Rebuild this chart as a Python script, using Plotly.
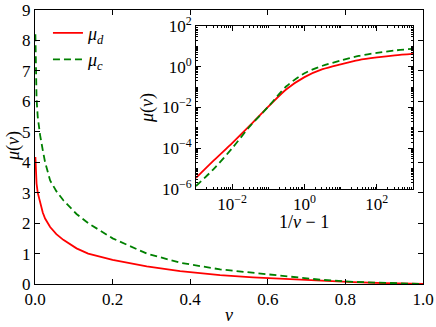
"""Chemical potential mu(nu): main panel plus log-log inset."""

import plotly.graph_objects as go

# ─── Main panel : mu vs nu ────────────────────────────────────────────────────
nu = [0.001, 0.002, 0.004, 0.007, 0.013, 0.02, 0.026, 0.039, 0.055, 0.073,
      0.107, 0.137, 0.2, 0.288, 0.374, 0.477, 0.562, 0.649, 0.735, 0.82,
      0.906, 0.96, 1.0]
mu_d = [4.17, 3.8, 3.3, 3.0, 2.7, 2.35, 2.15, 1.87, 1.64, 1.45,
        1.17, 1.0, 0.79, 0.58, 0.42, 0.29, 0.22, 0.16, 0.11, 0.06,
        0.025, 0.008, 0.0]
mu_c = [8.2, 7.2, 6.1, 5.5, 4.9, 4.4, 4.0, 3.4, 3.05, 2.75,
        2.3, 2.0, 1.5, 1.0, 0.7, 0.48, 0.36, 0.24, 0.14, 0.07,
        0.025, 0.008, 0.0]

# ─── Inset : mu vs 1/nu - 1 (log-log) ─────────────────────────────────────────
inv_nu_m1 = [1e-3, 3.16e-3, 1e-2, 3.16e-2, 1e-1, 3.16e-1, 1.0, 3.16, 10.0,
             31.6, 100.0, 316.0, 1000.0]
mu_d_inset = [3.5e-6, 2.6e-5, 1.8e-4, 1.35e-3, 1.1e-2, 7.9e-2, 0.31, 0.76,
              1.32, 2.14, 2.88, 3.63, 4.27]
mu_c_inset = [1.4e-6, 1.0e-5, 1.0e-4, 1.26e-3, 1.1e-2, 1.1e-1, 0.48, 1.12,
              2.0, 3.4, 4.8, 6.3, 7.6]

main_xticks = [0.0, 0.2, 0.4, 0.6, 0.8, 1.0]
main_yticks = list(range(10))
inset_xticks = [1e-2, 1.0, 1e2]
inset_xlabels = ["10<sup>−2</sup>", "10<sup>0</sup>", "10<sup>2</sup>"]
inset_yticks = [1e-6, 1e-4, 1e-2, 1.0, 1e2]
inset_ylabels = ["10<sup>−6</sup>", "10<sup>−4</sup>", "10<sup>−2</sup>",
                 "10<sup>0</sup>", "10<sup>2</sup>"]

_FONT = "Liberation Serif"
_RED = "#ff0000"
_GREEN = "#008000"
_DASH = "7px,4px"

fig = go.Figure()
fig.add_trace(go.Scatter(
    x=nu, y=mu_d, mode="lines", name="<i>μ</i><sub><i>d</i></sub>",
    line={"color": _RED, "width": 1.8}, legendgroup="d",
))
fig.add_trace(go.Scatter(
    x=nu, y=mu_c, mode="lines", name="<i>μ</i><sub><i>c</i></sub>",
    line={"color": _GREEN, "width": 1.8, "dash": _DASH}, legendgroup="c",
))
fig.add_trace(go.Scatter(
    x=inv_nu_m1, y=mu_d_inset, mode="lines", showlegend=False,
    line={"color": _RED, "width": 1.8, "shape": "spline", "smoothing": 0.8},
    xaxis="x2", yaxis="y2",
))
fig.add_trace(go.Scatter(
    x=inv_nu_m1, y=mu_c_inset, mode="lines", showlegend=False,
    line={"color": _GREEN, "width": 1.8, "dash": _DASH,
          "shape": "spline", "smoothing": 0.8},
    xaxis="x2", yaxis="y2",
))

_axis = {
    "showline": True, "linecolor": "black", "linewidth": 1, "mirror": "ticks",
    "ticks": "inside", "ticklen": 5, "tickcolor": "black",
    "showgrid": False, "zeroline": False, "automargin": False,
}


def _label(text, x, y, angle=0):
    return {"text": text, "x": x / 436, "y": 1 - y / 327,
            "xref": "paper", "yref": "paper", "showarrow": False,
            "xanchor": "center", "yanchor": "middle",
            "textangle": angle, "font": {"size": 18}}


fig.update_layout(
    width=436, height=327,
    margin={"l": 0, "r": 0, "t": 0, "b": 0, "autoexpand": False},
    paper_bgcolor="white", plot_bgcolor="white",
    font={"family": _FONT, "size": 17, "color": "black"},
    xaxis={**_axis, "domain": [35 / 436, 423 / 436], "range": [0, 1],
           "tickvals": main_xticks, "ticktext": [f"{v:.1f}" for v in main_xticks]},
    yaxis={**_axis, "domain": [1 - 284 / 327, 1 - 10 / 327], "range": [0, 9],
           "tickvals": main_yticks},
    xaxis2={**_axis, "domain": [196 / 436, 413 / 436], "anchor": "y2",
            "type": "log", "range": [-3, 3],
            "tickvals": inset_xticks, "ticktext": inset_xlabels,
            "minor": {"ticks": "inside", "ticklen": 2, "dtick": "D1",
                      "tickcolor": "black"}},
    yaxis2={**_axis, "domain": [1 - 189 / 327, 1 - 26 / 327], "anchor": "x2",
            "type": "log", "range": [-6, 2],
            "tickvals": inset_yticks, "ticktext": inset_ylabels,
            "minor": {"ticks": "inside", "ticklen": 2, "dtick": "D1",
                      "tickcolor": "black"}},
    legend={"x": 0.11, "y": 0.955, "xanchor": "left", "yanchor": "top",
            "bgcolor": "rgba(0,0,0,0)", "tracegroupgap": 0,
            "font": {"size": 18}},
    annotations=[
        _label("<i>ν</i>", 229, 315),
        _label("<i>μ</i>(<i>ν</i>)", 13, 146, -90),
        _label("1/<i>ν</i> − 1", 304, 222),
        _label("<i>μ</i>(<i>ν</i>)", 147, 108, -90),
    ],
)

fig.write_html("out.html", config={"displayModeBar": False},
               post_script="document.body.style.margin='0px';")
